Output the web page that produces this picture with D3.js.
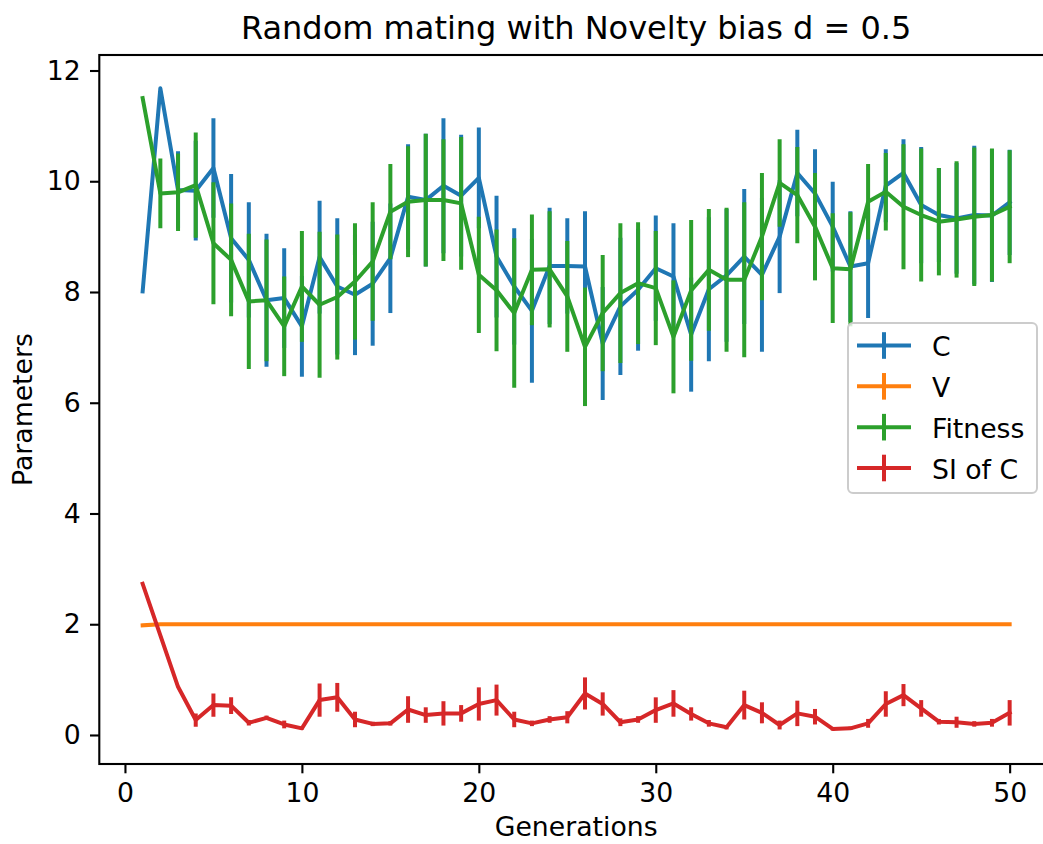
<!DOCTYPE html>
<html>
<head>
<meta charset="utf-8">
<script src="https://cdn.jsdelivr.net/npm/d3@7"></script>
<style>
  html, body { margin: 0; padding: 0; background: #ffffff; }
  svg { display: block; }
  text { font-family: "DejaVu Sans", sans-serif; fill: #000; }
</style>
</head>
<body>
<svg id="chart" width="1043" height="844"></svg>
<script>
// ---------------- data ----------------
const generations = [1,2,3,4,5,6,7,8,9,10,11,12,13,14,15,16,17,18,19,20,21,22,23,24,25,26,27,28,29,30,31,32,33,34,35,36,37,38,39,40,41,42,43,44,45,46,47,48,49,50];

const cValues = [8.01,11.68,9.84,9.83,10.24,8.97,8.58,7.85,7.89,7.38,8.63,8.10,7.95,8.15,8.61,9.72,9.66,9.92,9.74,10.06,8.64,8.10,7.66,8.47,8.47,8.46,7.07,7.74,8.04,8.43,8.28,7.23,8.05,8.30,8.64,8.31,9.00,10.15,9.78,9.18,8.46,8.52,9.92,10.15,9.57,9.39,9.33,9.39,9.38,9.62];
const cErr = [0,0,0.70,0.90,0.90,1.16,1.04,1.20,0.90,0.91,1.02,1.23,1.09,1.12,0.99,0.95,1.20,1.22,1.10,0.91,1.10,1.05,1.30,1.05,0.86,1.00,1.02,1.24,1.10,0.95,0.96,1.03,1.30,1.20,1.22,1.39,1.02,0.78,0.80,0.81,1.00,0.99,0.66,0.61,1.05,0.85,1.00,1.25,1.20,0.95];

const vValues = [1.98,2.00,2.00,2.00,2.00,2.00,2.00,2.00,2.00,2.00,2.00,2.00,2.00,2.00,2.00,2.00,2.00,2.00,2.00,2.00,2.00,2.00,2.00,2.00,2.00,2.00,2.00,2.00,2.00,2.00,2.00,2.00,2.00,2.00,2.00,2.00,2.00,2.00,2.00,2.00,2.00,2.00,2.00,2.00,2.00,2.00,2.00,2.00,2.00,2.00];
const vErr = [0,0,0,0,0,0,0,0,0,0,0,0,0,0,0,0,0,0,0,0,0,0,0,0,0,0,0,0,0,0,0,0,0,0,0,0,0,0,0,0,0,0,0,0,0,0,0,0,0,0];

const fitnessValues = [11.50,9.78,9.80,9.93,8.88,8.58,7.83,7.85,7.38,8.10,7.77,7.91,8.19,8.55,9.45,9.63,9.66,9.66,9.60,8.31,8.03,7.62,8.40,8.41,7.92,7.01,7.62,7.98,8.16,8.07,7.19,8.03,8.40,8.22,8.22,9.00,9.97,9.75,9.18,8.43,8.41,9.63,9.81,9.54,9.39,9.27,9.31,9.36,9.39,9.54];
const fitnessErr = [0,0.63,0.70,0.95,1.10,1.02,1.22,1.10,0.90,1.00,1.32,1.13,1.05,1.07,0.86,1.00,1.20,1.10,1.20,1.05,1.10,1.35,1.00,1.05,1.00,1.07,1.05,1.26,1.10,1.03,1.02,1.27,1.10,1.30,1.40,1.15,0.79,0.87,0.97,0.99,1.03,0.68,0.70,1.13,1.20,0.97,1.05,1.25,1.20,1.02];

const siValues = [2.73,1.80,0.87,0.27,0.54,0.53,0.22,0.31,0.19,0.12,0.63,0.68,0.28,0.20,0.21,0.46,0.36,0.39,0.39,0.56,0.63,0.28,0.21,0.28,0.32,0.75,0.56,0.23,0.28,0.45,0.57,0.38,0.21,0.14,0.54,0.40,0.18,0.39,0.33,0.11,0.12,0.21,0.56,0.72,0.48,0.24,0.23,0.20,0.22,0.40];
const siErr = [0,0,0,0.12,0.21,0.15,0.05,0.04,0.07,0.02,0.30,0.26,0.14,0.04,0.04,0.24,0.14,0.22,0.15,0.30,0.28,0.14,0.05,0.06,0.11,0.29,0.21,0.07,0.06,0.23,0.24,0.12,0.06,0.04,0.26,0.19,0.08,0.23,0.14,0.03,0.03,0.08,0.23,0.20,0.15,0.05,0.10,0.05,0.07,0.23];

const seriesNames = ["C", "V", "Fitness", "SI of C"];
const seriesColors = ["#1f77b4", "#ff7f0e", "#2ca02c", "#d62728"];
const xTicks = [0, 10, 20, 30, 40, 50];
const yTicks = [0, 2, 4, 6, 8, 10, 12];
const titleText = "Random mating with Novelty bias d = 0.5";
const xLabel = "Generations";
const yLabel = "Parameters";

// ---------------- layout ----------------
(function draw() {
const svg = d3.select("#chart");
const pL = 99.3, pR = 1053, pT = 55, pB = 764;
const x = d3.scaleLinear().domain([-1.45, 52.45]).range([pL, pR]);
const y = d3.scaleLinear().domain([-0.524, 12.28]).range([pB, pT]);

const series = [
  {name: seriesNames[0], color: seriesColors[0], vals: cValues, err: cErr},
  {name: seriesNames[1], color: seriesColors[1], vals: vValues, err: vErr},
  {name: seriesNames[2], color: seriesColors[2], vals: fitnessValues, err: fitnessErr},
  {name: seriesNames[3], color: seriesColors[3], vals: siValues, err: siErr}
];

svg.append("defs").append("clipPath").attr("id", "clip")
  .append("rect").attr("x", pL).attr("y", pT).attr("width", pR - pL).attr("height", pB - pT);

const plot = svg.append("g").attr("clip-path", "url(#clip)");
const lw = 4;
const line = d3.line().x((d, i) => x(generations[i])).y(d => y(d));

series.forEach(s => {
  plot.append("path")
    .datum(s.vals)
    .attr("d", line)
    .attr("fill", "none")
    .attr("stroke", s.color)
    .attr("stroke-width", lw)
    .attr("stroke-linejoin", "round")
    .attr("stroke-linecap", "square");
  plot.append("g").selectAll("line")
    .data(s.vals.map((v, i) => ({g: generations[i], v: v, e: s.err[i]})).filter(d => d.e > 0))
    .join("line")
    .attr("x1", d => x(d.g)).attr("x2", d => x(d.g))
    .attr("y1", d => y(d.v - d.e)).attr("y2", d => y(d.v + d.e))
    .attr("stroke", s.color)
    .attr("stroke-width", lw);
});

// ---------------- axes ----------------
const tickLen = 9.3, tickPad = 9.3, fs = 26.7;
const xAxis = d3.axisBottom(x).tickValues(xTicks).tickSize(tickLen).tickPadding(tickPad).tickFormat(d3.format("d"));
const yAxis = d3.axisLeft(y).tickValues(yTicks).tickSize(tickLen).tickPadding(tickPad).tickFormat(d3.format("d"));

const gx = svg.append("g").attr("transform", `translate(0,${pB})`).call(xAxis);
const gy = svg.append("g").attr("transform", `translate(${pL},0)`).call(yAxis);
[gx, gy].forEach(g => {
  g.select(".domain").remove();
  g.selectAll(".tick line").attr("stroke", "#000").attr("stroke-width", 2.1);
  g.selectAll(".tick text").attr("font-size", fs).attr("font-family", "DejaVu Sans").attr("fill", "#000");
});

// spines
svg.append("rect")
  .attr("x", pL).attr("y", pT).attr("width", pR - pL).attr("height", pB - pT)
  .attr("fill", "none").attr("stroke", "#000").attr("stroke-width", 2.1);

// title and labels
svg.append("text").attr("x", (pL + pR) / 2).attr("y", 39)
  .attr("text-anchor", "middle").attr("font-size", 32).text(titleText);
svg.append("text").attr("x", (pL + pR) / 2).attr("y", 836)
  .attr("text-anchor", "middle").attr("font-size", fs).text(xLabel);
svg.append("text").attr("transform", `translate(32,${(pT + pB) / 2}) rotate(-90)`)
  .attr("text-anchor", "middle").attr("font-size", fs).text(yLabel);

// ---------------- legend ----------------
const lg = svg.append("g");
lg.append("rect")
  .attr("x", 848).attr("y", 323).attr("width", 189).attr("height", 170)
  .attr("rx", 5).attr("ry", 5)
  .attr("fill", "#ffffff").attr("fill-opacity", 0.8)
  .attr("stroke", "#cccccc").attr("stroke-width", 2);
const rowY = d3.scaleLinear().domain([0, 3]).range([345.5, 468]);
series.forEach((s, i) => {
  const yy = rowY(i);
  lg.append("line").attr("x1", 857).attr("x2", 911).attr("y1", yy).attr("y2", yy)
    .attr("stroke", s.color).attr("stroke-width", lw);
  lg.append("line").attr("x1", 884).attr("x2", 884).attr("y1", yy - 13.3).attr("y2", yy + 13.3)
    .attr("stroke", s.color).attr("stroke-width", lw);
  lg.append("text").attr("x", 932).attr("y", yy + 10.5).attr("font-size", fs).text(s.name);
});
})();
</script>
</body>
</html>
